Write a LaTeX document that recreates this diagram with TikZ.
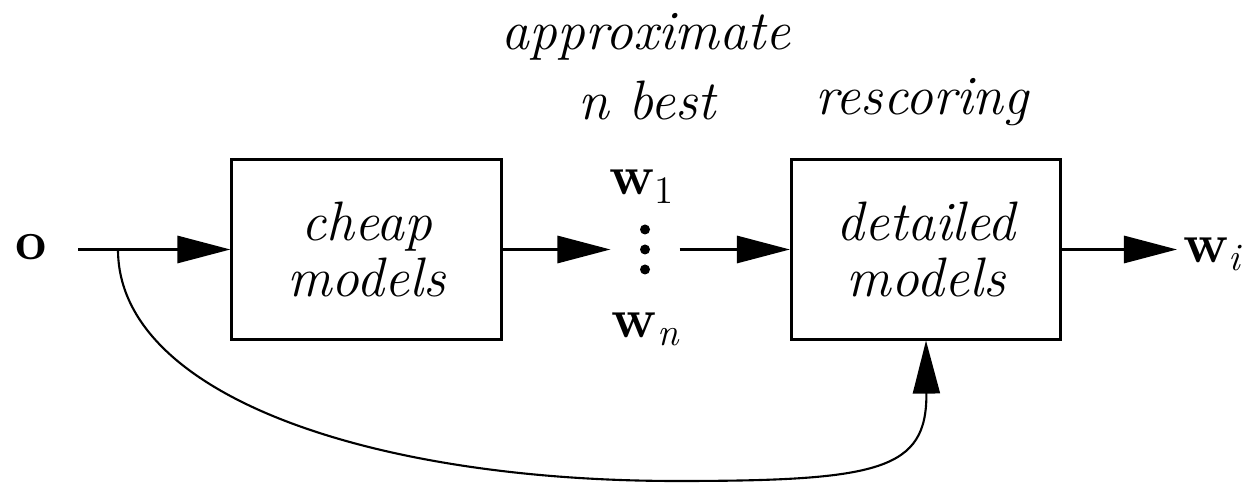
\documentclass[tikz,border=0pt]{standalone}
\usepackage{fontspec}
\usetikzlibrary{arrows.meta,positioning,calc}

\begin{document}
\begin{tikzpicture}[x=0.01cm, y=-0.01cm, >={Triangle[length=5.3mm, width=2.7mm]}, line width=0.85pt,
    box/.style={draw, minimum width=2.69cm, minimum height=1.79cm, align=center, font=\fontsize{15.8pt}{16.2pt}\selectfont\itshape},
    lbl/.style={inner sep=0.5mm, font=\fontsize{15.8pt}{20pt}\selectfont},
    note/.style={lbl, anchor=base, font=\fontsize{15.8pt}{20pt}\selectfont\itshape}]
    \useasboundingbox (0,0) rectangle (1243,483);
    % the two model stages
    \node[box] (cm) at (366.5,249.5) {cheap\\models};
    \node[box] (dm) at (926,249.5) {detailed\\models};
    % n best list in between
    \node[minimum width=0.66cm, minimum height=0.6cm] (dots) at (645,249.5) {};
    \foreach \dy in {-20,0,20}
        \fill ([yshift=\dy*0.01cm]dots.center) circle (0.05cm);
    \node[lbl, anchor=base] (w1) at (642,195) {\textbf{w}\textsubscript{1}};
    \node[lbl, anchor=base] (wn) at (646,338) {\textbf{w}\textsubscript{\itshape n}};
    % input and output
    \node[lbl, anchor=base] (o) at (31,260) {\textbf{o}};
    \node[lbl, anchor=base west] (wi) at (1177,263) {\textbf{w}\textsubscript{\itshape i}};
    % captions
    \node[note] (approx) at (646,50) {approximate};
    \node[note] (nbest) at (647,120) {n best};
    \node[note] (resc) at (922,115) {rescoring};
    \coordinate (split) at (118,249.5);
    \draw[->] ($(o.east |- cm.west)+(25,0)$) -- (cm.west);
    \draw[->] (cm) -- (dots);
    \draw[->] (dots) -- (dm);
    \draw[->] (dm.east) -- (wi.west |- dm.east);
    \draw[->, line width=0.6pt] (split) .. controls (118,395) and (370,481) .. (677,481)
        .. controls (880,481) and (927,470) .. (dm.south);
\end{tikzpicture}
\end{document}
